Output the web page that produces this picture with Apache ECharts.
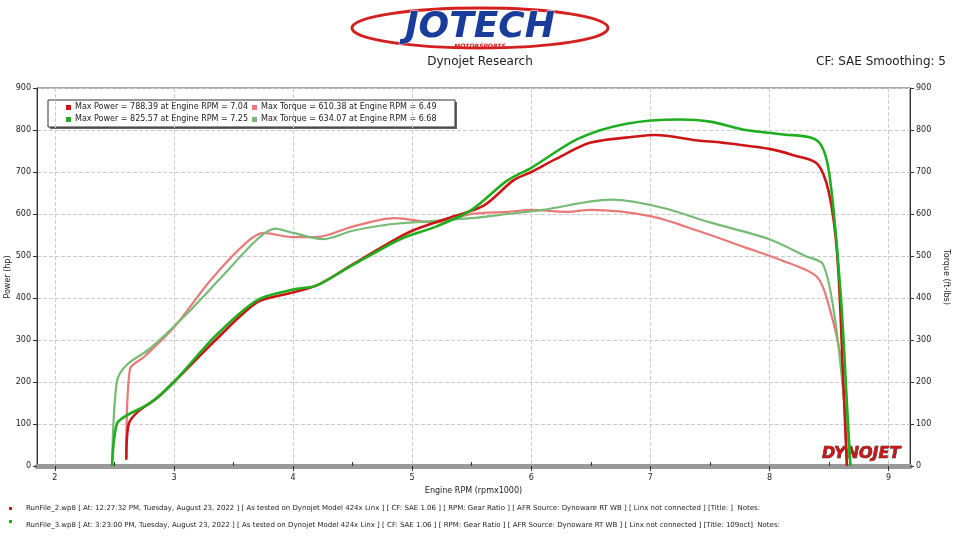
<!DOCTYPE html>
<html><head><meta charset="utf-8"><script src="https://cdn.jsdelivr.net/npm/echarts@6/dist/echarts.min.js"></script>
<style>html,body{margin:0;padding:0;background:#fff}#c{width:960px;height:540px}</style></head>
<body><div id="c"></div><script>
const powerRed = [[2.6,15],[2.62,100],[2.7,130],[2.85,160],[3.0,200],[3.35,300],[3.7,390],[3.95,410],[4.2,430],[4.5,480],[4.8,530],[5.0,560],[5.3,590],[5.6,620],[5.85,680],[6.0,700],[6.2,730],[6.5,770],[6.9,785],[7.04,788],[7.4,775],[7.6,770],[8.0,755],[8.2,740],[8.4,720],[8.5,650],[8.57,500],[8.62,200],[8.65,0]];
const powerGreen = [[2.48,0],[2.52,100],[2.6,120],[2.8,150],[3.0,200],[3.35,310],[3.7,395],[4.0,420],[4.2,430],[4.45,470],[4.9,540],[5.2,570],[5.5,610],[5.8,680],[6.0,710],[6.4,780],[6.8,815],[7.25,825],[7.5,820],[7.8,800],[8.1,790],[8.4,775],[8.5,700],[8.6,400],[8.65,150],[8.68,0]];
const torqueRed = [[2.6,20],[2.63,230],[2.75,260],[3.0,330],[3.3,440],[3.6,530],[3.75,555],[4.0,545],[4.2,545],[4.5,570],[4.85,590],[5.2,580],[5.5,600],[5.8,605],[6.0,610],[6.3,605],[6.5,610],[7.0,595],[7.4,560],[7.8,520],[8.1,490],[8.4,450],[8.5,380],[8.6,250],[8.65,0]];
const torqueGreen = [[2.48,0],[2.52,200],[2.6,240],[2.8,280],[3.1,360],[3.4,450],[3.7,540],[3.85,565],[4.0,555],[4.25,540],[4.5,560],[4.8,575],[5.0,580],[5.5,590],[5.8,600],[6.1,610],[6.5,630],[6.68,634],[7.1,615],[7.5,580],[8.0,540],[8.3,500],[8.45,480],[8.55,350],[8.63,150],[8.68,0]];
const xTicks = [2,3,4,5,6,7,8,9];
const xMinorTicks = [2.5,3.5,4.5,5.5,6.5,7.5,8.5];
const legendLines = ['Max Power = 788.39 at Engine RPM = 7.04','Max Torque = 610.38 at Engine RPM = 6.49','Max Power = 825.57 at Engine RPM = 7.25','Max Torque = 634.07 at Engine RPM = 6.68'];
const footer = ['RunFile_2.wp8 [ At: 12:27:32 PM, Tuesday, August 23, 2022 ] [ As tested on Dynojet Model 424x Linx ] [ CF: SAE 1.06 ] [ RPM: Gear Ratio ] [ AFR Source: Dynoware RT WB ] [ Linx not connected ] [Title: ]  Notes:',
'RunFile_3.wp8 [ At: 3:23:00 PM, Tuesday, August 23, 2022 ] [ As tested on Dynojet Model 424x Linx ] [ CF: SAE 1.06 ] [ RPM: Gear Ratio ] [ AFR Source: Dynoware RT WB ] [ Linx not connected ] [Title: 109oct]  Notes:'];
const C = {red:'#cc1515', green:'#1fae1f', lred:'#e87a7a', lgreen:'#76bb76'};
const F = 'DejaVu Sans';
const ch = echarts.init(document.getElementById('c'));
const ax = {type:'value',min:0,max:900,interval:100,axisLine:{show:true,lineStyle:{color:'#333'}},axisTick:{show:true,length:4,lineStyle:{color:'#333'}},axisLabel:{fontSize:8,fontFamily:F,color:'#222',margin:6},splitLine:{show:false}};
function ser(d,c,w){return {type:'line',data:d,showSymbol:false,smooth:0.3,lineStyle:{color:c,width:w},itemStyle:{color:c},z:w>2.4?3:2};}
function leg(x,y,c,t){return [{type:'rect',shape:{x:x,y:y-3,width:5,height:5},style:{fill:c}},{type:'text',x:x+9,y:y-5,style:{text:t,font:'8px '+F,fill:'#222'}}];}
ch.setOption({
 animation:false,
 grid:{left:37,right:50,top:88,bottom:74,outerBoundsMode:'none',containLabel:false},
 xAxis:[{type:'value',min:1.85,max:9.18,name:'Engine RPM (rpmx1000)',nameLocation:'middle',nameGap:20,nameTextStyle:{fontSize:8,fontFamily:F,color:'#222'},
   axisLine:{show:true,lineStyle:{color:'#999',width:5}},
   axisLabel:{fontSize:8,fontFamily:F,color:'#222',margin:8,customValues:xTicks},
   axisTick:{customValues:xTicks,length:5,lineStyle:{color:'#333'}},
   splitLine:{show:true,lineStyle:{type:'dashed',color:'#ccc'}}},
  {type:'value',min:1.85,max:9.18,position:'bottom',axisLine:{show:false},axisLabel:{show:false},splitLine:{show:false},
   axisTick:{customValues:xMinorTicks,inside:true,length:4,lineStyle:{color:'#333'}}}],
 yAxis:[Object.assign({},ax,{splitLine:{show:true,lineStyle:{type:'dashed',color:'#ccc'}}}),Object.assign({},ax,{position:'right'})],
 series:[ser(torqueRed,C.lred,2.2),ser(torqueGreen,C.lgreen,2.2),ser(powerRed,C.red,2.6),ser(powerGreen,C.green,2.6)],
 graphic:[
  {type:'rect',shape:{x:37,y:88,width:873,height:378},style:{fill:'none',stroke:'#555',lineWidth:1},silent:true},
  {type:'text',x:8,y:277,rotation:Math.PI/2,style:{text:'Power (hp)',font:'8px '+F,fill:'#222',align:'center',verticalAlign:'middle'}},
  {type:'text',x:946,y:277,rotation:-Math.PI/2,style:{text:'Torque (ft-lbs)',font:'8px '+F,fill:'#222',align:'center',verticalAlign:'middle'}},
  {type:'ellipse',shape:{cx:480,cy:28,rx:128,ry:20},style:{fill:'none',stroke:'#d42020',lineWidth:3}},
  {type:'text',x:480,y:28,style:{text:'JOTECH',font:'italic bold 36px '+F,fill:'#1a3c9a',align:'center',verticalAlign:'middle',stroke:'#fff',lineWidth:1}},
  {type:'text',x:480,y:43,style:{text:'MOTORSPORTS',font:'italic bold 6px '+F,fill:'#d42020',align:'center'}},
  {type:'text',x:480,y:62,style:{text:'Dynojet Research',font:'12px '+F,fill:'#222',align:'center',verticalAlign:'middle'}},
  {type:'text',x:946,y:62,style:{text:'CF: SAE Smoothing: 5',font:'12px '+F,fill:'#222',align:'right',verticalAlign:'middle'}},
  {type:'rect',shape:{x:50,y:102,width:407,height:27},style:{fill:'#666'}},
  {type:'rect',shape:{x:48,y:100,width:407,height:27},style:{fill:'#fff',stroke:'#333',lineWidth:1}},
  ...leg(66,108,C.red,legendLines[0]),...leg(252,108,C.lred,legendLines[1]),
  ...leg(66,120,C.green,legendLines[2]),...leg(252,120,C.lgreen,legendLines[3]),
  {type:'text',x:822,y:462,style:{text:'DYNOJET',font:'italic bold 16px '+F,fill:'#c81818',verticalAlign:'bottom',stroke:'#111',lineWidth:0.6}},
  {type:'rect',shape:{x:9,y:507,width:3,height:3},style:{fill:C.red}},
  {type:'rect',shape:{x:9,y:520,width:3,height:3},style:{fill:C.green}},
  {type:'text',x:26,y:508,style:{text:footer[0],font:'7px '+F,fill:'#222',verticalAlign:'middle'}},
  {type:'text',x:26,y:525,style:{text:footer[1],font:'7px '+F,fill:'#222',verticalAlign:'middle'}}
 ]
});
</script></body></html>
